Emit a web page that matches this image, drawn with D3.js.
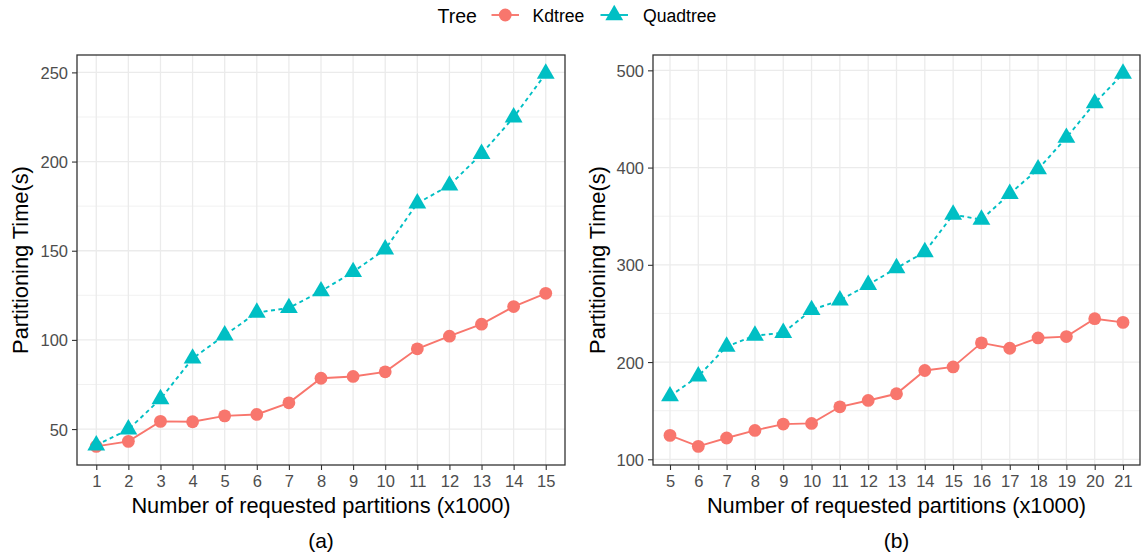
<!DOCTYPE html>
<html>
<head>
<meta charset="utf-8">
<script src="https://cdn.jsdelivr.net/npm/d3@7/dist/d3.min.js"></script>
<style>
  html, body { margin: 0; padding: 0; background: #fff; }
  svg { display: block; font-family: "Liberation Sans", Arial, sans-serif; }
</style>
</head>
<body>
<svg id="chart" width="1141" height="556"></svg>
<script>
// ---- Data ----
const seriesNames = ["Kdtree", "Quadtree"];

const xA = [1, 2, 3, 4, 5, 6, 7, 8, 9, 10, 11, 12, 13, 14, 15];
const kdA = [40.3, 43.1, 54.3, 54.1, 57.4, 58.2, 64.7, 78.5, 79.5, 82.1, 95.0, 102.1, 108.8, 118.7, 126.1];
const quadA = [40.9, 49.8, 66.8, 89.6, 102.6, 115.3, 117.9, 127.3, 138.1, 150.8, 176.6, 186.6, 204.3, 224.8, 249.3];
const yTicksA = [50, 100, 150, 200, 250];
const yMinorA = [75, 125, 175, 225];

const xB = [5, 6, 7, 8, 9, 10, 11, 12, 13, 14, 15, 16, 17, 18, 19, 20, 21];
const kdB = [124.6, 113.3, 121.9, 129.7, 136.2, 136.9, 154.0, 160.5, 167.4, 191.3, 195.0, 219.7, 214.2, 224.8, 226.2, 244.6, 240.8];
const quadB = [164.9, 185.4, 216.0, 227.2, 230.0, 253.6, 263.5, 279.5, 296.6, 313.2, 351.6, 346.5, 373.0, 398.3, 430.7, 466.2, 496.6];
const yTicksB = [100, 200, 300, 400, 500];
const yMinorB = [150, 250, 350, 450];

const yTitle = "Partitioning Time(s)";
const xTitle = "Number of requested partitions (x1000)";
const captions = ["(a)", "(b)"];
const legendTitle = "Tree";

// ---- Styles ----
const colors = { Kdtree: "#F8766D", Quadtree: "#00BFC4" };
const svg = d3.select("#chart");

const triangle = (r) => {
  const xc = r * 1.3468 / 1.5551;
  return `M0,${-r}L${xc},${r/2}L${-xc},${r/2}Z`;
};

function panel(cfg) {
  const { left, right, top, bottom, xs, kd, quad, yTicks, yMinor, caption, yTitleX } = cfg;
  const all = kd.concat(quad);
  const [lo, hi] = d3.extent(all);
  const pad = (hi - lo) * 0.05;
  const y = d3.scaleLinear().domain([lo - pad, hi + pad]).range([bottom, top]);
  const x = d3.scalePoint().domain(xs).range([left, right]).padding(0.6);

  const g = svg.append("g");
  // minor grid
  g.selectAll(".minor").data(yMinor).enter().append("line")
    .attr("x1", left).attr("x2", right)
    .attr("y1", d => y(d)).attr("y2", d => y(d))
    .attr("stroke", "#EBEBEB").attr("stroke-width", 0.7);
  // major grid
  g.selectAll(".majorY").data(yTicks).enter().append("line")
    .attr("x1", left).attr("x2", right)
    .attr("y1", d => y(d)).attr("y2", d => y(d))
    .attr("stroke", "#EBEBEB").attr("stroke-width", 1.3);
  g.selectAll(".majorX").data(xs).enter().append("line")
    .attr("x1", d => x(d)).attr("x2", d => x(d))
    .attr("y1", top).attr("y2", bottom)
    .attr("stroke", "#EBEBEB").attr("stroke-width", 1.3);

  // lines
  const line = d3.line().x((d, i) => x(xs[i])).y(d => y(d));
  g.append("path").datum(kd).attr("d", line)
    .attr("fill", "none").attr("stroke", colors.Kdtree).attr("stroke-width", 1.9);
  g.append("path").datum(quad).attr("d", line)
    .attr("fill", "none").attr("stroke", colors.Quadtree).attr("stroke-width", 1.9)
    .attr("stroke-dasharray", "4,3.5");

  // points
  g.selectAll(".kdpt").data(kd).enter().append("circle")
    .attr("cx", (d, i) => x(xs[i])).attr("cy", d => y(d)).attr("r", 6.4)
    .attr("fill", colors.Kdtree);
  g.selectAll(".qpt").data(quad).enter().append("path")
    .attr("d", triangle(10.3))
    .attr("transform", (d, i) => `translate(${x(xs[i])},${y(d)})`)
    .attr("fill", colors.Quadtree);

  // border
  g.append("rect").attr("x", left).attr("y", top)
    .attr("width", right - left).attr("height", bottom - top)
    .attr("fill", "none").attr("stroke", "#333333").attr("stroke-width", 1.3);

  // axes
  const ax = g.append("g").attr("transform", `translate(0,${bottom})`)
    .call(d3.axisBottom(x).tickSize(5).tickPadding(4));
  const ay = g.append("g").attr("transform", `translate(${left},0)`)
    .call(d3.axisLeft(y).tickValues(yTicks).tickSize(5).tickPadding(4));
  [ax, ay].forEach(a => {
    a.select(".domain").remove();
    a.selectAll(".tick line").attr("stroke", "#333333").attr("stroke-width", 1.1);
    a.selectAll(".tick text").attr("fill", "#4D4D4D")
      .style("font-size", "16.5px").style("font-family", "'Liberation Sans', Arial, sans-serif");
  });
  ax.selectAll(".tick text").attr("dy", "0.78em");
  ay.selectAll(".tick text").attr("dy", "0.36em");

  const cx = (left + right) / 2;
  g.append("text").attr("x", cx).attr("y", 513).attr("text-anchor", "middle")
    .style("font-size", "21.8px").attr("fill", "#000").text(xTitle);
  g.append("text").attr("x", cx).attr("y", 548).attr("text-anchor", "middle")
    .style("font-size", "21px").attr("fill", "#000").text(caption);
  g.append("text")
    .attr("transform", `translate(${yTitleX},${(top + bottom) / 2}) rotate(-90)`)
    .attr("text-anchor", "middle")
    .style("font-size", "21.8px").attr("fill", "#000").text(yTitle);
}

panel({ left: 77, right: 565, top: 55, bottom: 465, xs: xA, kd: kdA, quad: quadA,
        yTicks: yTicksA, yMinor: yMinorA, caption: captions[0], yTitleX: 28 });
panel({ left: 653, right: 1140, top: 55, bottom: 465, xs: xB, kd: kdB, quad: quadB,
        yTicks: yTicksB, yMinor: yMinorB, caption: captions[1], yTitleX: 605 });

// ---- Legend ----
const lg = svg.append("g");
lg.append("text").attr("x", 437.5).attr("y", 22.5).style("font-size", "19.5px")
  .attr("fill", "#000").text(legendTitle);
const keys = [
  { name: seriesNames[0], x1: 491.5, x2: 519, tx: 532.5 },
  { name: seriesNames[1], x1: 600.5, x2: 628, tx: 643 }
];
keys.forEach(k => {
  const c = colors[k.name];
  const mx = (k.x1 + k.x2) / 2;
  lg.append("line").attr("x1", k.x1).attr("x2", k.x2).attr("y1", 15).attr("y2", 15)
    .attr("stroke", c).attr("stroke-width", 1.9);
  if (k.name === "Kdtree") {
    lg.append("circle").attr("cx", mx).attr("cy", 15).attr("r", 6.4).attr("fill", c);
  } else {
    lg.append("path").attr("d", triangle(10.3)).attr("transform", `translate(${mx},15)`).attr("fill", c);
  }
  lg.append("text").attr("x", k.tx).attr("y", 21.5).style("font-size", "17.6px")
    .attr("fill", "#000").text(k.name);
});
</script>
</body>
</html>
